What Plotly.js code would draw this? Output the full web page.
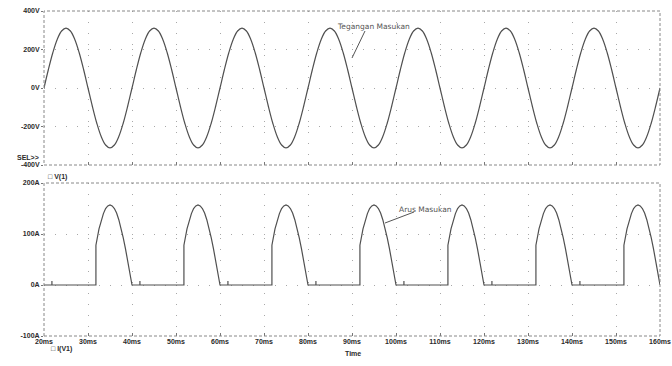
<!DOCTYPE html>
<html>
<head>
<meta charset="utf-8">
<script src="https://cdn.plot.ly/plotly-3.0.1.min.js"></script>
<style>html,body{margin:0;padding:0;background:#fff;}#chart{width:672px;height:366px;}</style>
</head>
<body>
<div id="chart"></div>
<script>
// Time axis labels (ms)
const xTickVals = [20,30,40,50,60,70,80,90,100,110,120,130,140,150,160];
const xTickText = ["20ms","30ms","40ms","50ms","60ms","70ms","80ms","90ms","100ms","110ms","120ms","130ms","140ms","150ms","160ms"];

// V(1): input voltage, sampled every 1 ms from 20 ms to 160 ms
const timeV = [20,21,22,23,24,25,26,27,28,29,30,31,32,33,34,35,36,37,38,39,
  40,41,42,43,44,45,46,47,48,49,50,51,52,53,54,55,56,57,58,59,
  60,61,62,63,64,65,66,67,68,69,70,71,72,73,74,75,76,77,78,79,
  80,81,82,83,84,85,86,87,88,89,90,91,92,93,94,95,96,97,98,99,
  100,101,102,103,104,105,106,107,108,109,110,111,112,113,114,115,116,117,118,119,
  120,121,122,123,124,125,126,127,128,129,130,131,132,133,134,135,136,137,138,139,
  140,141,142,143,144,145,146,147,148,149,150,151,152,153,154,155,156,157,158,159,160];
const voltage = [0,96,183,252,296,311,296,252,183,96,0,-96,-183,-252,-296,-311,-296,-252,-183,-96,
  0,96,183,252,296,311,296,252,183,96,0,-96,-183,-252,-296,-311,-296,-252,-183,-96,
  0,96,183,252,296,311,296,252,183,96,0,-96,-183,-252,-296,-311,-296,-252,-183,-96,
  0,96,183,252,296,311,296,252,183,96,0,-96,-183,-252,-296,-311,-296,-252,-183,-96,
  0,96,183,252,296,311,296,252,183,96,0,-96,-183,-252,-296,-311,-296,-252,-183,-96,
  0,96,183,252,296,311,296,252,183,96,0,-96,-183,-252,-296,-311,-296,-252,-183,-96,
  0,96,183,252,296,311,296,252,183,96,0,-96,-183,-252,-296,-311,-296,-252,-183,-96,0];
const vTickVals = [-400,-200,0,200,400];
const vTickText = ["-400V","-200V","0V","200V","400V"];

// I(V1): input current
const timeI = [20,
  21.8,21.8,21.8,31.8,31.8,32.5,33,33.5,34,34.5,35,35.5,36,36.5,37,37.5,38,38.5,39,39.5,40,
  41.8,41.8,41.8,51.8,51.8,52.5,53,53.5,54,54.5,55,55.5,56,56.5,57,57.5,58,58.5,59,59.5,60,
  61.8,61.8,61.8,71.8,71.8,72.5,73,73.5,74,74.5,75,75.5,76,76.5,77,77.5,78,78.5,79,79.5,80,
  81.8,81.8,81.8,91.8,91.8,92.5,93,93.5,94,94.5,95,95.5,96,96.5,97,97.5,98,98.5,99,99.5,100,
  101.8,101.8,101.8,111.8,111.8,112.5,113,113.5,114,114.5,115,115.5,116,116.5,117,117.5,118,118.5,119,119.5,120,
  121.8,121.8,121.8,131.8,131.8,132.5,133,133.5,134,134.5,135,135.5,136,136.5,137,137.5,138,138.5,139,139.5,140,
  141.8,141.8,141.8,151.8,151.8,152.5,153,153.5,154,154.5,155,155.5,156,156.5,157,157.5,158,158.5,159,159.5,160];
const current = [0,
  0,8,0,0,78,110,127,140,150,155,157,155,150,141,128,112,93,72,49,25,0,
  0,8,0,0,78,110,127,140,150,155,157,155,150,141,128,112,93,72,49,25,0,
  0,8,0,0,78,110,127,140,150,155,157,155,150,141,128,112,93,72,49,25,0,
  0,8,0,0,78,110,127,140,150,155,157,155,150,141,128,112,93,72,49,25,0,
  0,8,0,0,78,110,127,140,150,155,157,155,150,141,128,112,93,72,49,25,0,
  0,8,0,0,78,110,127,140,150,155,157,155,150,141,128,112,93,72,49,25,0,
  0,8,0,0,78,110,127,140,150,155,157,155,150,141,128,112,93,72,49,25,0];
const iTickVals = [-100,0,100,200];
const iTickText = ["-100A","0A","100A","200A"];

// pixel helpers for layout geometry (plot area 44..660 x 11..336)
const L = 44, R = 12, T = 11, B = 30, W = 672, H = 366;
const pw = W - L - R, ph = H - T - B;
const px = v => (v - L) / pw;
const py = v => (H - B - v) / ph;

const lineCol = '#505050';
const gridCol = '#a8a8a8';
const tickFont = {family: 'Liberation Sans, Arial, sans-serif', size: 7, color: '#2a2a2a', weight: 'bold'};

const traces = [
  {x: timeV, y: voltage, type: 'scatter', mode: 'lines', line: {color: lineCol, width: 1.2, shape: 'spline'}, xaxis: 'x', yaxis: 'y', hoverinfo: 'none'},
  {x: timeI, y: current, type: 'scatter', mode: 'lines', line: {color: lineCol, width: 1.2}, xaxis: 'x2', yaxis: 'y2', hoverinfo: 'none'}
];

const xCommon = {
  range: [20, 160], tickvals: xTickVals, ticktext: xTickText,
  showgrid: true, gridcolor: gridCol, griddash: '1px 10px', gridwidth: 1,
  zeroline: false, showline: false, ticks: 'inside', ticklen: 3, tickcolor: '#777',
  tickfont: tickFont
};

const layout = {
  width: W, height: H,
  margin: {l: L, r: R, t: T, b: B},
  paper_bgcolor: '#fff', plot_bgcolor: '#fff',
  showlegend: false,
  xaxis: Object.assign({}, xCommon, {anchor: 'y', showticklabels: false}),
  yaxis: {domain: [py(165), 1], range: [-400, 400], tickvals: vTickVals, ticktext: vTickText,
    showgrid: true, gridcolor: gridCol, griddash: '1px 10px', zeroline: false, showline: false,
    ticks: 'outside', ticklen: 2, tickcolor: '#777', tickfont: tickFont},
  xaxis2: Object.assign({}, xCommon, {anchor: 'y2', matches: 'x'}),
  yaxis2: {domain: [0, py(183)], range: [-100, 200], tickvals: iTickVals, ticktext: iTickText,
    showgrid: true, gridcolor: gridCol, griddash: '1px 10px', zeroline: false, showline: false,
    ticks: 'outside', ticklen: 2, tickcolor: '#777', tickfont: tickFont},
  shapes: [
    {type: 'rect', xref: 'x domain', yref: 'y domain', x0: 0, x1: 1, y0: 0, y1: 1, line: {color: '#888', width: 1, dash: '3px 2px'}},
    {type: 'rect', xref: 'x2 domain', yref: 'y2 domain', x0: 0, x1: 1, y0: 0, y1: 1, line: {color: '#888', width: 1, dash: '3px 2px'}},
    {type: 'line', xref: 'paper', yref: 'paper', x0: px(352), y0: py(58), x1: px(365), y1: py(31), line: {color: '#555', width: 1}},
    {type: 'line', xref: 'paper', yref: 'paper', x0: px(385), y0: py(223), x1: px(414), y1: py(212), line: {color: '#555', width: 1}}
  ],
  annotations: [
    {xref: 'paper', yref: 'paper', x: px(373), y: py(20), text: 'Tegangan Masukan', showarrow: false, font: {family: 'DejaVu Sans, sans-serif', size: 7.5, color: '#555'}},
    {xref: 'paper', yref: 'paper', x: px(425), y: py(209), text: 'Arus Masukan', showarrow: false, font: {family: 'DejaVu Sans, sans-serif', size: 7.5, color: '#555'}},
    {xref: 'paper', yref: 'paper', x: px(41), y: py(157), xanchor: 'right', text: 'SEL>>', showarrow: false, font: tickFont},
    {xref: 'paper', yref: 'paper', x: px(46), y: py(177), xanchor: 'left', text: '\u25A1 V(1)', showarrow: false, font: tickFont},
    {xref: 'paper', yref: 'paper', x: px(49), y: py(355), xanchor: 'left', text: '\u25A1 I(V1)', showarrow: false, font: tickFont},
    {xref: 'paper', yref: 'paper', x: px(353), y: py(359), text: 'Time', showarrow: false, font: tickFont}
  ]
};

Plotly.newPlot('chart', traces, layout, {staticPlot: true, displayModeBar: false});
</script>
</body>
</html>
